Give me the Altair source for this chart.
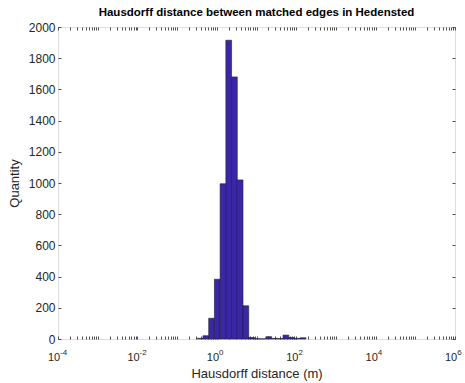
import altair as alt
import pandas as pd

# Histogram bin edges (log10 of distance in metres) and counts per bin
edge_exp = [-0.492, -0.348, -0.204, -0.060, 0.084, 0.228, 0.372, 0.516, 0.660,
            0.804, 0.948, 1.092, 1.236, 1.380, 1.524, 1.668, 1.812, 1.956,
            2.100, 2.244]
counts = [4, 21, 133, 383, 995, 1915, 1680, 1020, 213, 10, 2, 1, 15, 4, 3,
          25, 10, 4, 8]

# Axis ticks: decade labels are drawn as a base "10" plus a raised exponent
x_decades = list(range(-4, 7))
x_label_exps = [-4, -2, 0, 2, 4, 6]
x_label_base = "10"
x_label_power = ["-4", "-2", "0", "2", "4", "6"]
y_ticks = [0, 200, 400, 600, 800, 1000, 1200, 1400, 1600, 1800, 2000]

df = pd.DataFrame({
    "lo": [10 ** e for e in edge_exp[:-1]],
    "hi": [10 ** e for e in edge_exp[1:]],
    "count": counts,
})

major = [10.0 ** d for d in x_decades]
minor = [m * 10.0 ** d for d in x_decades[:-1] for m in range(2, 10)]
x_tick_vals = sorted(major + minor)
x_label_vals = [10.0 ** e for e in x_label_exps]


def decade_expr(texts):
    """Vega expression picking a label by the tick's decade."""
    return " : ".join(
        f"abs(log(datum.value)/LN10 - ({e})) < 0.001 ? '{t}'"
        for e, t in zip(x_label_exps, texts)
    ) + " : ''"


base_expr = decade_expr([x_label_base] * len(x_label_exps))
power_expr = decade_expr(x_label_power)

FONT = "Liberation Sans"
INK = "#262626"
TICK = 3

xscale = alt.Scale(type="log", domain=[1e-4, 1e6], nice=False)
yscale = alt.Scale(domain=[0, 2000], nice=False, zero=True)

# inward ticks: the axis is pulled into the plot by its own tick length
common_axis = dict(domain=False, grid=False, tickSize=TICK, offset=-TICK,
                   tickColor=INK, tickWidth=0.8, labelColor=INK,
                   labelFont=FONT, titleFont=FONT, titleFontSize=13,
                   titleColor=INK, titleFontWeight="normal")

bars = alt.Chart(df).mark_bar(
    color="#3a27a8", stroke="#1e1e2e", strokeWidth=0.6, opacity=1
).encode(
    x=alt.X("lo:Q", scale=xscale,
            axis=alt.Axis(orient="bottom", values=x_tick_vals,
                          labelExpr=base_expr, labelOverlap=False,
                          labelFontSize=11, labelPadding=12,
                          labelOffset=-4.4, labelFlush=False,
                          title="Hausdorff distance (m)", titlePadding=5,
                          **common_axis)),
    x2="hi:Q",
    y=alt.Y("count:Q", scale=yscale,
            axis=alt.Axis(orient="left", values=y_ticks, format="d",
                          labelFontSize=12, labelPadding=3,
                          title="Quantity", titlePadding=7,
                          **common_axis)),
    y2=alt.datum(0),
)

# top and right tick rows closing the box
frame = alt.Chart(df).mark_bar(opacity=0).encode(
    x=alt.X("lo:Q", scale=xscale,
            axis=alt.Axis(orient="top", values=x_tick_vals, labels=False,
                          title=None, **common_axis)),
    x2="hi:Q",
    y=alt.Y("count:Q", scale=yscale,
            axis=alt.Axis(orient="right", values=y_ticks, labels=False,
                          title=None, **common_axis)),
    y2=alt.datum(0),
)

# exponents of the decade labels
powers = alt.Chart(df).mark_bar(opacity=0).encode(
    x=alt.X("lo:Q", scale=xscale,
            axis=alt.Axis(orient="bottom", values=x_label_vals,
                          labelExpr=power_expr, labelOverlap=False,
                          labelFont=FONT, labelFontSize=8, labelColor=INK,
                          labelAlign="left", labelOffset=1.7,
                          labelPadding=9.5, labelFlush=False,
                          ticks=False, tickSize=0, domain=False, grid=False,
                          title=None)),
    x2="hi:Q",
    y=alt.Y("count:Q", scale=yscale, axis=None),
    y2=alt.datum(0),
)

chart = alt.layer(bars, frame, powers).resolve_axis(
    x="independent", y="independent"
).properties(
    width=397,
    height=312,
    autosize="none",
    padding={"left": 58, "top": 27, "right": 10, "bottom": 44},
    title=alt.TitleParams(
        "Hausdorff distance between matched edges in Hedensted",
        font=FONT, fontSize=11.5, fontWeight="bold", color="#000000",
        anchor="middle", offset=3,
    ),
).configure_view(
    stroke=INK, strokeWidth=0.8
).configure(background="white")

chart.save("out.html", embed_options={"renderer": "svg", "actions": False})
